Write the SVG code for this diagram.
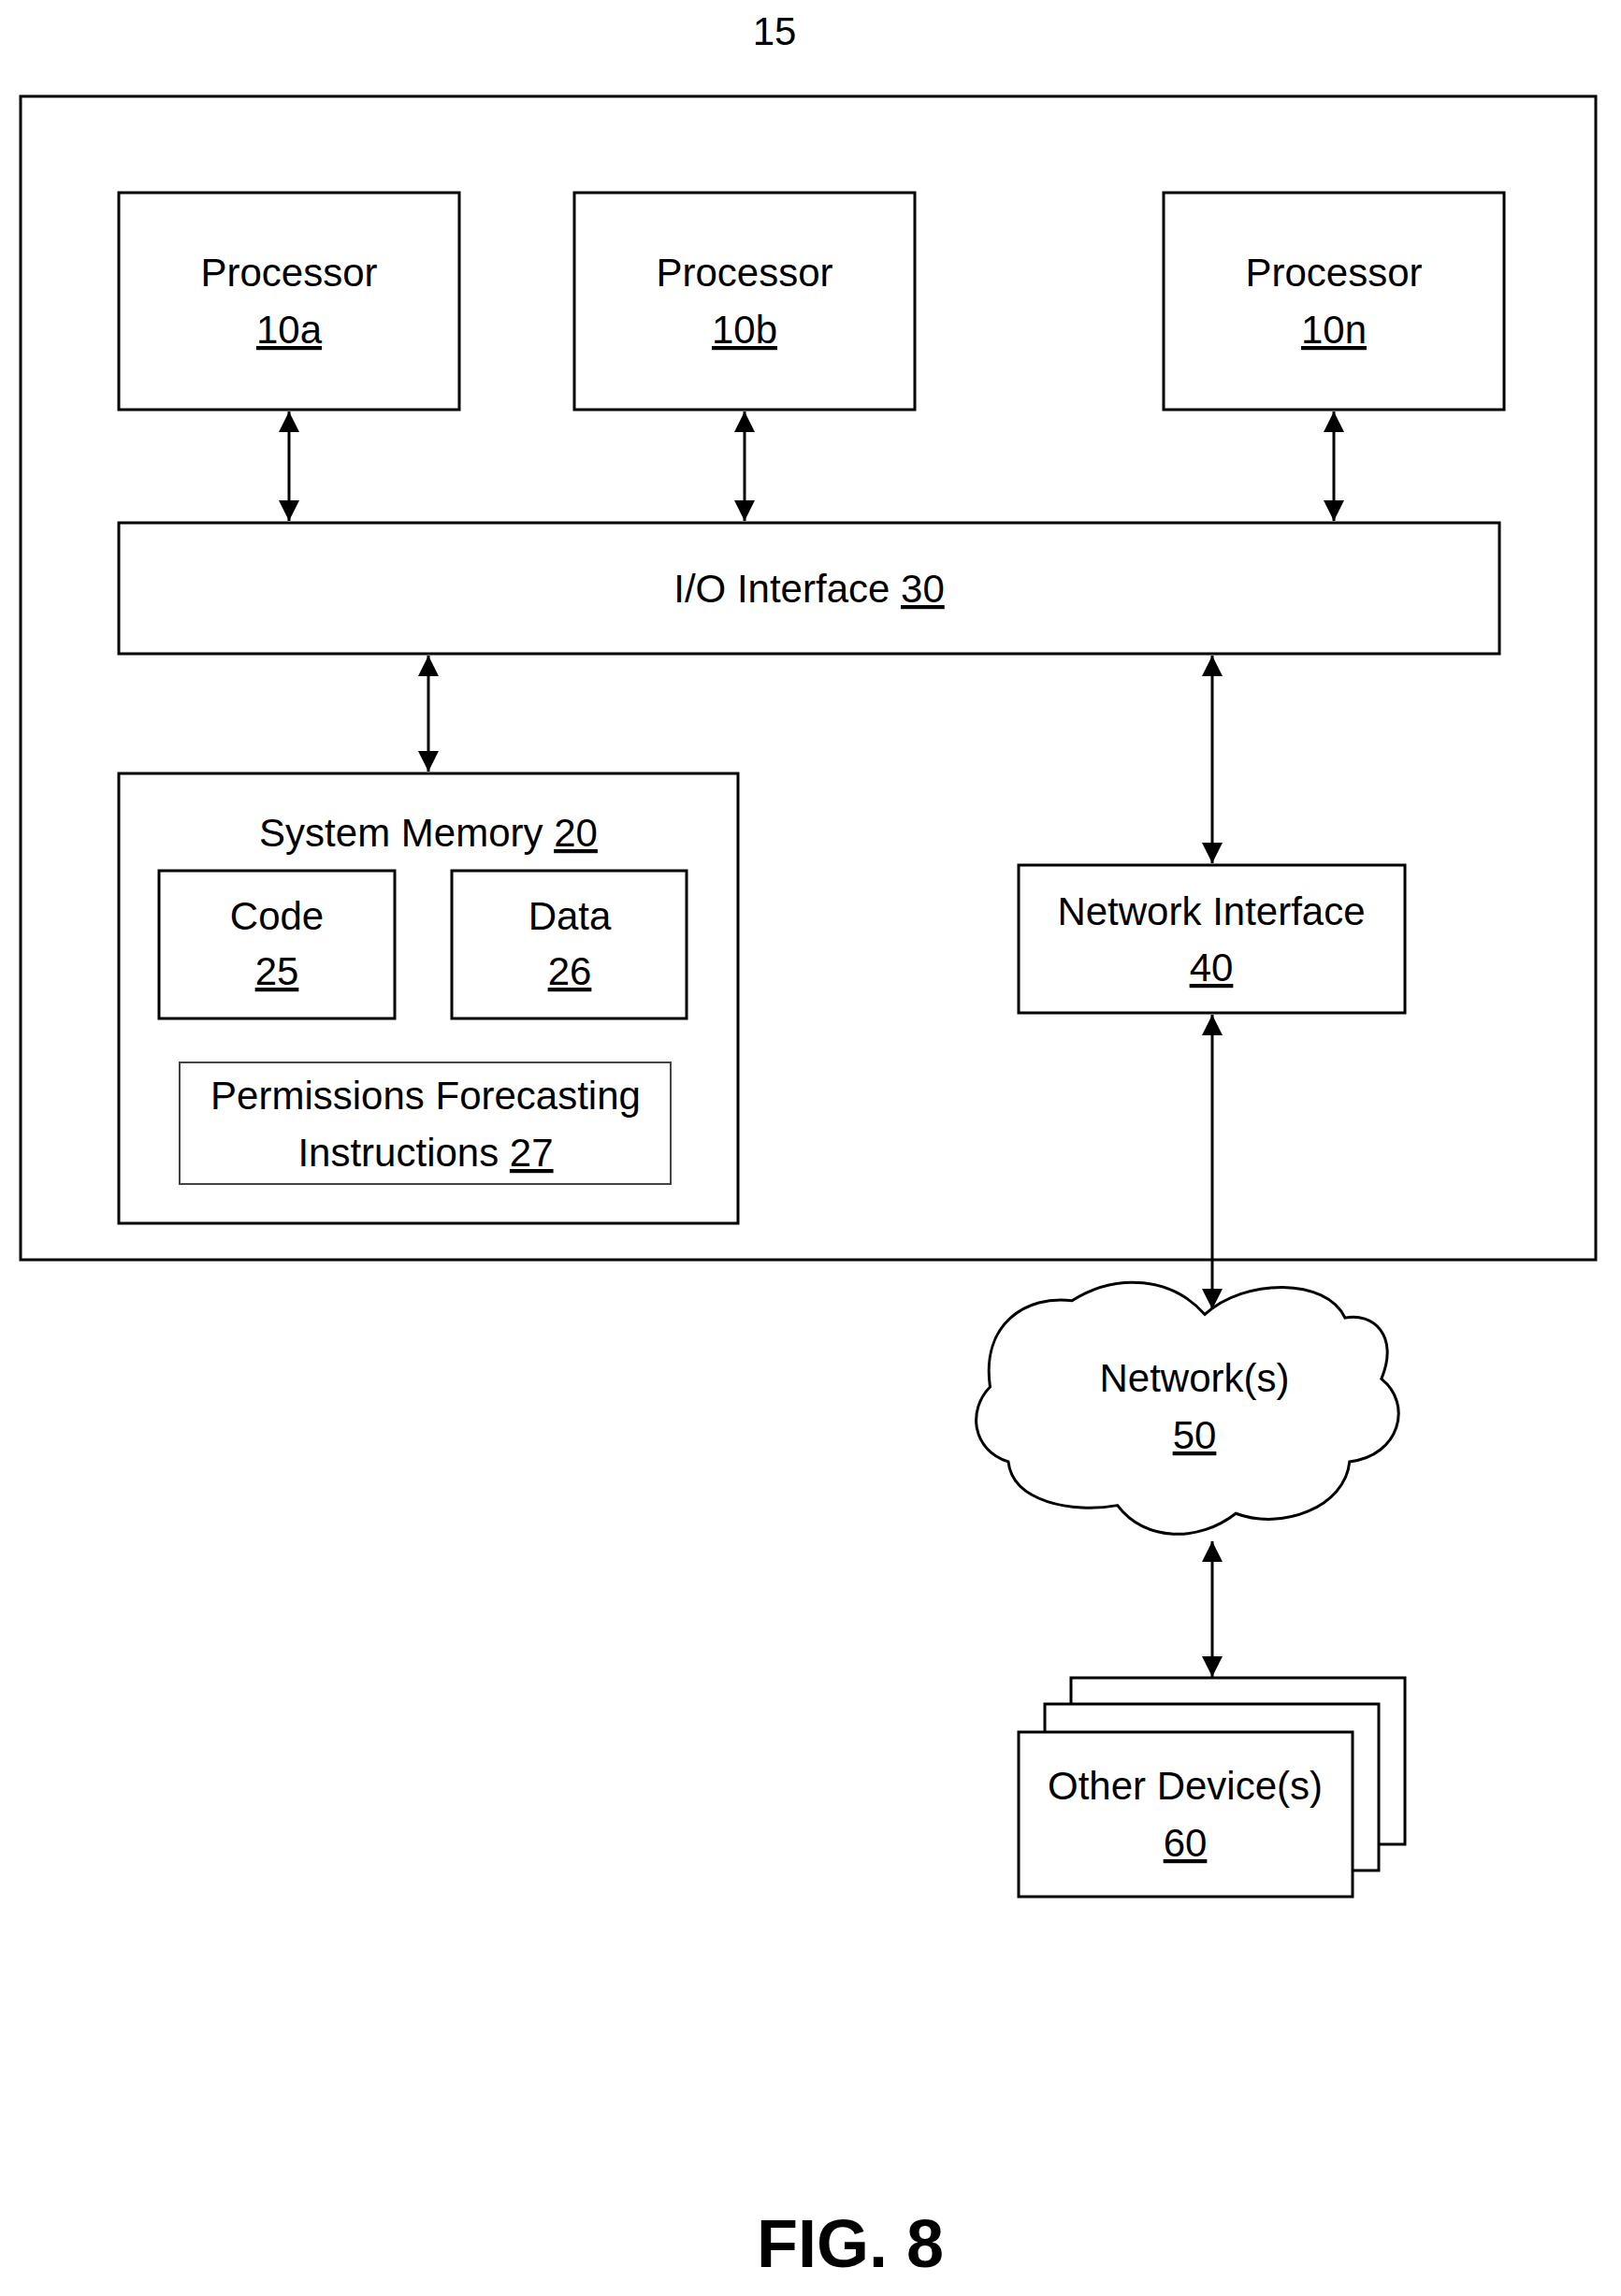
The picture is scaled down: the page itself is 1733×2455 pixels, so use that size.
<svg xmlns="http://www.w3.org/2000/svg" width="1733" height="2455" viewBox="0 0 1733 2455">
<style>
.b{fill:#fff;stroke:#000;stroke-width:3}
.t{font-family:"Liberation Sans",Arial,sans-serif;font-size:42px;text-anchor:middle;fill:#000}
.u{text-decoration:underline}
.c{stroke:#000;stroke-width:3;fill:none;marker-start:url(#a);marker-end:url(#a)}
</style>
<defs>
<marker id="a" viewBox="0 0 10 10" refX="10" refY="5" markerWidth="24" markerHeight="22" markerUnits="userSpaceOnUse" orient="auto-start-reverse">
<path d="M0,0L10,5L0,10z" fill="#000"/>
</marker>
</defs>
<text class="t" x="828" y="48">15</text>
<g id="computer"><rect class="b" x="22" y="103" width="1684" height="1244"/></g>
<g id="proc10a"><rect class="b" x="127" y="206" width="364" height="232"/><text class="t" x="309" y="306">Processor</text><text class="t" x="309" y="367"><tspan class="u">10a</tspan></text></g>
<g id="proc10b"><rect class="b" x="614" y="206" width="364" height="232"/><text class="t" x="796" y="306">Processor</text><text class="t" x="796" y="367"><tspan class="u">10b</tspan></text></g>
<g id="proc10n"><rect class="b" x="1244" y="206" width="364" height="232"/><text class="t" x="1426" y="306">Processor</text><text class="t" x="1426" y="367"><tspan class="u">10n</tspan></text></g>
<g id="io30"><rect class="b" x="127" y="559" width="1476" height="140"/><text class="t" x="865" y="644">I/O Interface <tspan class="u">30</tspan></text></g>
<g id="mem20"><rect class="b" x="127" y="827" width="662" height="481"/><text class="t" x="458" y="905">System Memory <tspan class="u">20</tspan></text></g>
<g id="code25"><rect class="b" x="170" y="931" width="252" height="158"/><text class="t" x="296" y="994">Code</text><text class="t" x="296" y="1053"><tspan class="u">25</tspan></text></g>
<g id="data26"><rect class="b" x="483" y="931" width="251" height="158"/><text class="t" x="609" y="994">Data</text><text class="t" x="609" y="1053"><tspan class="u">26</tspan></text></g>
<g id="perm27"><rect x="192" y="1136" width="525" height="130" fill="#fff" stroke="#444" stroke-width="2"/><text class="t" x="455" y="1186">Permissions Forecasting</text><text class="t" x="455" y="1247">Instructions <tspan class="u">27</tspan></text></g>
<g id="net40"><rect class="b" x="1089" y="925" width="413" height="158"/><text class="t" x="1295" y="989">Network Interface</text><text class="t" x="1295" y="1049"><tspan class="u">40</tspan></text></g>
<g id="network50"><path class="b" vector-effect="non-scaling-stroke" transform="matrix(0.973 0 0 1.23 27.1 -306.7)" d="M1296,1392 C1260,1360 1200,1355 1150,1380 C1100,1375 1050,1400 1060,1455 C1035,1475 1040,1510 1080,1520 C1085,1555 1150,1565 1200,1558 C1230,1590 1290,1590 1330,1565 C1380,1580 1450,1560 1455,1520 C1510,1515 1525,1470 1490,1448 C1510,1410 1480,1390 1450,1395 C1430,1360 1340,1360 1296,1392 Z"/><text class="t" x="1277" y="1488">Network(s)</text><text class="t" x="1277" y="1549"><tspan class="u">50</tspan></text></g>
<g id="dev60"><rect class="b" x="1145" y="1794" width="357" height="178"/><rect class="b" x="1117" y="1822" width="357" height="178"/><rect class="b" x="1089" y="1852" width="357" height="176"/><text class="t" x="1267" y="1924">Other Device(s)</text><text class="t" x="1267" y="1985"><tspan class="u">60</tspan></text></g>
<g id="connectors">
<line class="c" x1="309" y1="440" x2="309" y2="557"/>
<line class="c" x1="796" y1="440" x2="796" y2="557"/>
<line class="c" x1="1426" y1="440" x2="1426" y2="557"/>
<line class="c" x1="458" y1="701" x2="458" y2="825"/>
<line class="c" x1="1296" y1="701" x2="1296" y2="923"/>
<line class="c" x1="1296" y1="1085" x2="1296" y2="1400"/>
<line class="c" x1="1296" y1="1648" x2="1296" y2="1793"/>
</g>
<text x="909" y="2424" style="font-family:'Liberation Sans',Arial,sans-serif;font-size:72px;font-weight:bold;text-anchor:middle">FIG. 8</text>
</svg>
